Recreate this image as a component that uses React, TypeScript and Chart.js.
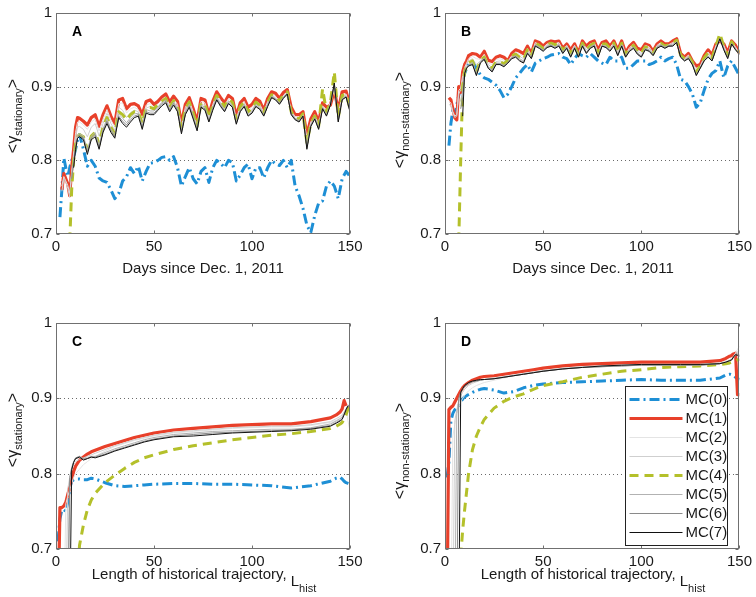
import React, { useEffect, useRef } from "react";
import { Chart, registerables } from "chart.js";

Chart.register(...registerables);

const _ = null;

// ---------- axes / categories ----------
const DAYS = [2, 3, 4, 5, 6, 7, 8, 9, 10, 11,
  12, 14, 16, 18, 20, 22, 24, 26, 28, 30,
  32, 34, 36, 38, 40, 42, 44, 46, 48, 50,
  52, 54, 56, 58, 60, 62, 64, 66, 68, 70,
  72, 74, 76, 78, 80, 82, 84, 86, 88, 90,
  92, 94, 96, 98, 100, 102, 104, 106, 108, 110,
  112, 114, 116, 118, 120, 122, 124, 126, 128, 130,
  132, 134, 136, 138, 140, 142, 144, 146, 148, 150];

const L_HIST = [1, 2, 3, 4, 5, 6, 7, 8, 9, 10,
  12, 14, 16, 18, 20, 25, 30, 35, 40, 45,
  50, 60, 70, 80, 90, 100, 110, 120, 130, 140,
  143, 145, 146, 147, 148, 149, 150];

const X_TICKS = [0, 50, 100, 150];
const X_TICK_LABELS = ["0", "50", "100", "150"];
const Y_TICKS = [0.7, 0.8, 0.9, 1];
const Y_TICK_LABELS = ["0.7", "0.8", "0.9", "1"];
const GRID_Y = [0.8, 0.9];
const SERIES_NAMES = ["MC(0)", "MC(1)", "MC(2)", "MC(3)", "MC(4)", "MC(5)", "MC(6)", "MC(7)"];

// ---------- Panel A : stationary vs day ----------
const A_MC0 = [0.723, 0.760, 0.803, 0.790, 0.778, 0.790, 0.800, 0.805, 0.815, 0.828,
  0.835, 0.815, 0.792, 0.800, 0.792, 0.776, 0.772, 0.770, 0.760, 0.748,
  0.755, 0.772, 0.778, 0.790, 0.782, 0.792, 0.772, 0.785, 0.796, 0.797,
  0.800, 0.804, 0.805, 0.800, 0.805, 0.790, 0.765, 0.778, 0.790, 0.775,
  0.768, 0.785, 0.790, 0.770, 0.790, 0.800, 0.796, 0.790, 0.800, 0.797,
  0.772, 0.780, 0.790, 0.795, 0.775, 0.790, 0.790, 0.776, 0.790, 0.800,
  0.795, 0.793, 0.800, 0.790, 0.800, 0.765, 0.752, 0.735, 0.712, 0.702,
  0.725, 0.742, 0.745, 0.765, 0.772, 0.765, 0.748, 0.775, 0.785, 0.778];
const A_MC1 = [_, 0.760, 0.782, 0.775, 0.768, 0.752, 0.790, 0.815, 0.845, 0.858,
  0.857, 0.853, 0.848, 0.858, 0.862, 0.846, 0.862, 0.874, 0.860, 0.850,
  0.882, 0.884, 0.870, 0.876, 0.877, 0.874, 0.862, 0.880, 0.882, 0.876,
  0.880, 0.886, 0.890, 0.879, 0.887, 0.880, 0.850, 0.876, 0.885, 0.870,
  0.852, 0.884, 0.882, 0.862, 0.880, 0.893, 0.885, 0.878, 0.888, 0.884,
  0.860, 0.878, 0.884, 0.872, 0.876, 0.884, 0.880, 0.868, 0.884, 0.893,
  0.891, 0.884, 0.892, 0.896, 0.872, 0.862, 0.862, 0.866, 0.835, 0.856,
  0.866, 0.852, 0.878, 0.872, 0.875, 0.895, 0.868, 0.893, 0.894, 0.874];
const A_MC2 = [_, 0.765, 0.778, 0.772, 0.766, 0.755, 0.785, 0.810, 0.838, 0.852,
  0.852, 0.848, 0.842, 0.852, 0.856, 0.840, 0.856, 0.869, 0.855, 0.845,
  0.877, 0.878, 0.864, 0.870, 0.872, 0.869, 0.856, 0.875, 0.877, 0.872,
  0.876, 0.882, 0.886, 0.875, 0.883, 0.876, 0.846, 0.872, 0.881, 0.866,
  0.848, 0.880, 0.878, 0.858, 0.876, 0.889, 0.881, 0.874, 0.884, 0.880,
  0.856, 0.874, 0.880, 0.868, 0.872, 0.880, 0.876, 0.865, 0.880, 0.889,
  0.887, 0.880, 0.888, 0.892, 0.868, 0.859, 0.858, 0.863, 0.830, 0.852,
  0.862, 0.848, 0.874, 0.867, 0.878, 0.896, 0.862, 0.889, 0.890, 0.870];
const A_MC3 = [_, 0.758, 0.775, 0.770, 0.762, 0.750, 0.780, 0.805, 0.832, 0.845,
  0.846, 0.842, 0.832, 0.845, 0.850, 0.833, 0.850, 0.864, 0.850, 0.841,
  0.872, 0.868, 0.858, 0.865, 0.868, 0.866, 0.851, 0.871, 0.873, 0.868,
  0.873, 0.879, 0.883, 0.872, 0.880, 0.872, 0.842, 0.868, 0.878, 0.862,
  0.845, 0.877, 0.874, 0.856, 0.873, 0.886, 0.878, 0.871, 0.881, 0.877,
  0.853, 0.871, 0.877, 0.865, 0.869, 0.877, 0.873, 0.862, 0.877, 0.888,
  0.885, 0.878, 0.887, 0.892, 0.865, 0.857, 0.855, 0.862, 0.822, 0.849,
  0.859, 0.845, 0.873, 0.864, 0.877, 0.900, 0.856, 0.886, 0.888, 0.868];
const A_MC4 = [_, _, _, _, _, 0.690, 0.760, 0.800, 0.822, 0.832,
  0.835, 0.832, 0.815, 0.833, 0.838, 0.822, 0.845, 0.858, 0.845, 0.836,
  0.866, 0.862, 0.855, 0.862, 0.866, 0.866, 0.850, 0.872, 0.872, 0.870,
  0.876, 0.880, 0.884, 0.872, 0.881, 0.873, 0.843, 0.870, 0.879, 0.864,
  0.846, 0.878, 0.876, 0.858, 0.875, 0.888, 0.880, 0.873, 0.883, 0.879,
  0.855, 0.873, 0.879, 0.866, 0.870, 0.879, 0.875, 0.864, 0.879, 0.889,
  0.887, 0.880, 0.889, 0.893, 0.866, 0.858, 0.856, 0.863, 0.824, 0.850,
  0.860, 0.846, 0.897, 0.866, 0.878, 0.920, 0.858, 0.888, 0.890, 0.870];
const A_MC5 = [_, _, _, _, _, 0.770, 0.780, 0.800, 0.820, 0.834,
  0.836, 0.833, 0.814, 0.833, 0.838, 0.820, 0.843, 0.856, 0.843, 0.835,
  0.863, 0.857, 0.851, 0.858, 0.863, 0.864, 0.847, 0.869, 0.867, 0.867,
  0.872, 0.878, 0.882, 0.870, 0.879, 0.870, 0.840, 0.866, 0.876, 0.860,
  0.843, 0.875, 0.872, 0.855, 0.872, 0.885, 0.877, 0.869, 0.880, 0.875,
  0.852, 0.869, 0.876, 0.863, 0.867, 0.876, 0.872, 0.862, 0.876, 0.887,
  0.884, 0.878, 0.886, 0.891, 0.864, 0.857, 0.854, 0.861, 0.819, 0.848,
  0.858, 0.844, 0.872, 0.862, 0.876, 0.903, 0.854, 0.884, 0.887, 0.867];
const A_MC6 = [_, _, _, _, _, _, 0.775, 0.795, 0.818, 0.831,
  0.834, 0.830, 0.811, 0.830, 0.835, 0.817, 0.840, 0.853, 0.840, 0.832,
  0.860, 0.853, 0.848, 0.855, 0.860, 0.862, 0.844, 0.866, 0.864, 0.864,
  0.870, 0.876, 0.880, 0.868, 0.877, 0.868, 0.838, 0.864, 0.874, 0.858,
  0.841, 0.873, 0.870, 0.853, 0.870, 0.883, 0.875, 0.867, 0.878, 0.873,
  0.850, 0.867, 0.874, 0.861, 0.865, 0.874, 0.870, 0.861, 0.874, 0.886,
  0.883, 0.877, 0.885, 0.890, 0.863, 0.856, 0.853, 0.860, 0.817, 0.847,
  0.857, 0.843, 0.871, 0.861, 0.875, 0.904, 0.853, 0.883, 0.886, 0.866];
const A_MC7 = [_, _, _, _, _, _, _, 0.790, 0.815, 0.830,
  0.832, 0.828, 0.808, 0.828, 0.832, 0.815, 0.838, 0.850, 0.838, 0.830,
  0.858, 0.850, 0.845, 0.852, 0.858, 0.860, 0.842, 0.864, 0.862, 0.862,
  0.868, 0.874, 0.878, 0.866, 0.875, 0.866, 0.836, 0.862, 0.872, 0.856,
  0.840, 0.872, 0.868, 0.852, 0.868, 0.882, 0.873, 0.866, 0.877, 0.872,
  0.849, 0.866, 0.873, 0.860, 0.864, 0.873, 0.869, 0.860, 0.873, 0.885,
  0.882, 0.876, 0.884, 0.890, 0.862, 0.855, 0.852, 0.860, 0.815, 0.846,
  0.856, 0.842, 0.870, 0.860, 0.875, 0.905, 0.852, 0.882, 0.886, 0.866];

// ---------- Panel B : non-stationary vs day ----------
const B_MC0 = [0.820, 0.850, 0.868, 0.860, 0.875, 0.888, 0.900, 0.908, 0.918, 0.925,
  0.932, 0.934, 0.925, 0.916, 0.912, 0.910, 0.906, 0.902, 0.895, 0.885,
  0.890, 0.900, 0.912, 0.918, 0.925, 0.930, 0.920, 0.932, 0.935, 0.938,
  0.940, 0.943, 0.944, 0.945, 0.940, 0.938, 0.930, 0.938, 0.945, 0.942,
  0.940, 0.945, 0.940, 0.935, 0.932, 0.930, 0.940, 0.935, 0.935, 0.940,
  0.925, 0.925, 0.930, 0.935, 0.935, 0.935, 0.930, 0.932, 0.935, 0.940,
  0.935, 0.938, 0.940, 0.930, 0.910, 0.908, 0.900, 0.890, 0.872, 0.878,
  0.895, 0.910, 0.918, 0.922, 0.935, 0.912, 0.928, 0.935, 0.925, 0.915];
const B_MC1 = [0.885, 0.882, 0.870, 0.858, 0.855, 0.900, 0.892, 0.920, 0.930, 0.935,
  0.942, 0.945, 0.944, 0.940, 0.948, 0.936, 0.934, 0.940, 0.942, 0.940,
  0.935, 0.945, 0.950, 0.948, 0.945, 0.955, 0.945, 0.962, 0.960, 0.955,
  0.960, 0.962, 0.961, 0.962, 0.952, 0.958, 0.950, 0.958, 0.946, 0.962,
  0.955, 0.960, 0.962, 0.950, 0.960, 0.962, 0.955, 0.962, 0.950, 0.962,
  0.946, 0.955, 0.960, 0.952, 0.950, 0.958, 0.956, 0.948, 0.958, 0.962,
  0.958, 0.958, 0.962, 0.965, 0.945, 0.940, 0.945, 0.935, 0.928, 0.930,
  0.942, 0.950, 0.943, 0.958, 0.962, 0.958, 0.946, 0.962, 0.956, 0.945];
const B_MC2 = [0.880, 0.878, 0.866, 0.860, 0.862, 0.895, 0.898, 0.915, 0.926, 0.932,
  0.938, 0.941, 0.938, 0.937, 0.944, 0.932, 0.930, 0.937, 0.938, 0.936,
  0.934, 0.942, 0.947, 0.944, 0.941, 0.952, 0.943, 0.960, 0.957, 0.953,
  0.958, 0.960, 0.958, 0.960, 0.950, 0.956, 0.947, 0.956, 0.944, 0.960,
  0.952, 0.958, 0.960, 0.947, 0.958, 0.959, 0.953, 0.960, 0.948, 0.960,
  0.944, 0.953, 0.958, 0.950, 0.947, 0.956, 0.954, 0.946, 0.956, 0.960,
  0.956, 0.957, 0.960, 0.963, 0.943, 0.938, 0.943, 0.933, 0.924, 0.928,
  0.940, 0.947, 0.940, 0.956, 0.962, 0.956, 0.943, 0.960, 0.954, 0.944];
const B_MC3 = [0.876, 0.874, 0.864, 0.858, 0.860, 0.890, 0.896, 0.910, 0.924, 0.930,
  0.935, 0.938, 0.930, 0.935, 0.941, 0.930, 0.926, 0.934, 0.935, 0.933,
  0.934, 0.940, 0.944, 0.941, 0.938, 0.950, 0.941, 0.958, 0.955, 0.951,
  0.956, 0.958, 0.956, 0.958, 0.948, 0.955, 0.945, 0.955, 0.943, 0.958,
  0.950, 0.956, 0.958, 0.945, 0.957, 0.957, 0.951, 0.958, 0.946, 0.958,
  0.943, 0.951, 0.956, 0.948, 0.945, 0.954, 0.952, 0.945, 0.955, 0.958,
  0.955, 0.956, 0.958, 0.962, 0.942, 0.937, 0.941, 0.932, 0.920, 0.927,
  0.938, 0.945, 0.938, 0.954, 0.963, 0.955, 0.941, 0.959, 0.952, 0.944];
const B_MC4 = [_, _, _, _, _, 0.690, 0.800, 0.900, 0.920, 0.928,
  0.932, 0.935, 0.920, 0.936, 0.940, 0.928, 0.925, 0.934, 0.934, 0.931,
  0.936, 0.942, 0.944, 0.940, 0.937, 0.950, 0.942, 0.959, 0.956, 0.952,
  0.957, 0.959, 0.957, 0.959, 0.949, 0.955, 0.944, 0.955, 0.943, 0.959,
  0.950, 0.956, 0.959, 0.945, 0.958, 0.958, 0.952, 0.959, 0.946, 0.959,
  0.943, 0.952, 0.956, 0.948, 0.945, 0.954, 0.952, 0.945, 0.955, 0.959,
  0.955, 0.957, 0.959, 0.963, 0.943, 0.938, 0.942, 0.933, 0.920, 0.928,
  0.939, 0.946, 0.939, 0.955, 0.972, 0.955, 0.942, 0.961, 0.953, 0.946];
const B_MC5 = [_, _, _, _, _, _, 0.880, 0.895, 0.920, 0.927,
  0.930, 0.933, 0.918, 0.934, 0.939, 0.927, 0.923, 0.932, 0.932, 0.929,
  0.933, 0.940, 0.942, 0.938, 0.935, 0.947, 0.940, 0.957, 0.954, 0.950,
  0.955, 0.957, 0.954, 0.957, 0.947, 0.954, 0.942, 0.954, 0.942, 0.957,
  0.947, 0.954, 0.957, 0.942, 0.956, 0.955, 0.950, 0.957, 0.944, 0.957,
  0.942, 0.950, 0.954, 0.946, 0.942, 0.952, 0.950, 0.944, 0.954, 0.957,
  0.954, 0.956, 0.957, 0.961, 0.941, 0.936, 0.940, 0.931, 0.917, 0.926,
  0.936, 0.942, 0.936, 0.952, 0.966, 0.952, 0.940, 0.959, 0.951, 0.944];
const B_MC6 = [_, _, _, _, _, _, 0.870, 0.885, 0.919, 0.926,
  0.929, 0.931, 0.916, 0.933, 0.938, 0.926, 0.921, 0.931, 0.931, 0.928,
  0.932, 0.939, 0.941, 0.936, 0.933, 0.946, 0.939, 0.956, 0.953, 0.949,
  0.954, 0.956, 0.953, 0.956, 0.946, 0.953, 0.941, 0.953, 0.941, 0.956,
  0.946, 0.953, 0.956, 0.941, 0.955, 0.954, 0.949, 0.956, 0.943, 0.956,
  0.941, 0.949, 0.953, 0.945, 0.941, 0.951, 0.949, 0.943, 0.953, 0.956,
  0.953, 0.955, 0.956, 0.960, 0.940, 0.935, 0.939, 0.930, 0.916, 0.925,
  0.935, 0.941, 0.935, 0.951, 0.965, 0.951, 0.939, 0.958, 0.950, 0.944];
const B_MC7 = [_, _, _, _, _, _, _, 0.860, 0.918, 0.925,
  0.928, 0.930, 0.915, 0.932, 0.937, 0.925, 0.920, 0.930, 0.930, 0.927,
  0.932, 0.938, 0.940, 0.935, 0.932, 0.945, 0.938, 0.955, 0.952, 0.948,
  0.953, 0.955, 0.952, 0.955, 0.945, 0.952, 0.940, 0.952, 0.940, 0.955,
  0.945, 0.952, 0.955, 0.940, 0.955, 0.953, 0.948, 0.955, 0.942, 0.955,
  0.940, 0.948, 0.952, 0.944, 0.940, 0.950, 0.948, 0.942, 0.952, 0.955,
  0.952, 0.955, 0.955, 0.960, 0.940, 0.935, 0.938, 0.930, 0.915, 0.925,
  0.935, 0.940, 0.935, 0.950, 0.965, 0.950, 0.938, 0.958, 0.950, 0.944];

// ---------- Panel C : stationary vs L_hist ----------
const C_MC0 = [0.710, 0.740, 0.752, 0.752, 0.750, 0.762, 0.780, 0.790, 0.792, 0.793,
  0.793, 0.792, 0.792, 0.794, 0.793, 0.788, 0.784, 0.783, 0.784, 0.785,
  0.786, 0.787, 0.787, 0.786, 0.786, 0.785, 0.784, 0.781, 0.784, 0.790,
  0.794, 0.795, 0.793, 0.790, 0.788, 0.787, 0.786];
const C_MC1 = [0.600, 0.755, 0.755, 0.757, 0.762, 0.772, 0.782, 0.792, 0.803, 0.810,
  0.818, 0.822, 0.826, 0.829, 0.831, 0.836, 0.840, 0.844, 0.848, 0.851,
  0.854, 0.858, 0.860, 0.862, 0.864, 0.865, 0.866, 0.866, 0.869, 0.874,
  0.878, 0.882, 0.886, 0.897, 0.890, _, _];
const C_MC2 = [_, _, _, 0.600, 0.760, 0.770, 0.778, 0.787, 0.795, 0.800,
  0.806, 0.812, 0.816, 0.820, 0.823, 0.830, 0.836, 0.840, 0.844, 0.847,
  0.850, 0.854, 0.856, 0.858, 0.860, 0.861, 0.862, 0.862, 0.864, 0.868,
  0.871, 0.874, 0.876, 0.880, 0.884, 0.870, 0.856];
const C_MC3 = [_, _, _, _, 0.600, 0.780, 0.795, 0.805, 0.812, 0.816,
  0.819, 0.821, 0.823, 0.825, 0.827, 0.832, 0.837, 0.841, 0.845, 0.848,
  0.851, 0.855, 0.857, 0.859, 0.861, 0.862, 0.863, 0.863, 0.865, 0.869,
  0.873, 0.876, 0.878, 0.882, 0.886, 0.890, 0.888];
const C_MC4 = [_, _, _, _, _, _, _, _, _, 0.620,
  0.705, 0.732, 0.752, 0.765, 0.774, 0.788, 0.798, 0.807, 0.815, 0.821,
  0.825, 0.832, 0.837, 0.841, 0.845, 0.848, 0.851, 0.853, 0.856, 0.860,
  0.863, 0.866, 0.868, 0.872, 0.878, 0.886, 0.892];
const C_MC5 = [_, _, _, _, _, 0.600, 0.790, 0.805, 0.815, 0.820,
  0.822, 0.820, 0.821, 0.823, 0.823, 0.828, 0.833, 0.837, 0.841, 0.845,
  0.848, 0.852, 0.854, 0.856, 0.857, 0.858, 0.859, 0.859, 0.861, 0.866,
  0.870, 0.873, 0.875, 0.880, 0.886, 0.891, 0.890];
const C_MC6 = [_, _, _, _, _, 0.600, 0.795, 0.808, 0.816, 0.821,
  0.823, 0.819, 0.820, 0.822, 0.822, 0.826, 0.831, 0.835, 0.839, 0.843,
  0.846, 0.850, 0.852, 0.854, 0.855, 0.856, 0.857, 0.858, 0.860, 0.864,
  0.868, 0.871, 0.873, 0.879, 0.885, 0.890, 0.889];
const C_MC7 = [_, _, _, _, _, _, 0.600, 0.805, 0.815, 0.820,
  0.822, 0.818, 0.820, 0.822, 0.821, 0.825, 0.830, 0.834, 0.838, 0.842,
  0.845, 0.849, 0.850, 0.852, 0.854, 0.855, 0.856, 0.857, 0.859, 0.863,
  0.867, 0.870, 0.872, 0.878, 0.885, 0.890, _];

// ---------- Panel D : non-stationary vs L_hist ----------
const D_MC0 = [0.795, 0.815, 0.870, 0.880, 0.885, 0.888, 0.890, 0.895, 0.899, 0.902,
  0.905, 0.908, 0.910, 0.912, 0.913, 0.911, 0.907, 0.909, 0.914, 0.917,
  0.919, 0.921, 0.922, 0.923, 0.924, 0.925, 0.924, 0.924, 0.924, 0.927,
  0.931, 0.932, 0.931, 0.930, 0.928, 0.926, 0.925];
const D_MC1 = [0.600, 0.885, 0.888, 0.890, 0.895, 0.900, 0.905, 0.910, 0.914, 0.917,
  0.921, 0.924, 0.926, 0.928, 0.929, 0.930, 0.932, 0.934, 0.936, 0.938,
  0.940, 0.943, 0.945, 0.946, 0.947, 0.948, 0.948, 0.948, 0.948, 0.950,
  0.953, 0.956, 0.957, 0.959, 0.960, 0.905, 0.905];
const D_MC2 = [_, _, 0.600, 0.850, 0.865, 0.878, 0.888, 0.895, 0.900, 0.904,
  0.910, 0.914, 0.917, 0.919, 0.921, 0.924, 0.927, 0.930, 0.932, 0.934,
  0.936, 0.939, 0.941, 0.942, 0.943, 0.944, 0.944, 0.944, 0.944, 0.946,
  0.948, 0.950, 0.952, 0.955, 0.960, 0.965, 0.969];
const D_MC3 = [_, _, _, 0.600, 0.870, 0.885, 0.895, 0.903, 0.908, 0.912,
  0.917, 0.920, 0.922, 0.924, 0.925, 0.927, 0.929, 0.931, 0.933, 0.935,
  0.937, 0.940, 0.942, 0.943, 0.944, 0.945, 0.945, 0.945, 0.945, 0.947,
  0.949, 0.951, 0.953, 0.956, 0.959, 0.962, 0.963];
const D_MC4 = [_, _, _, _, _, _, _, 0.690, 0.725, 0.752,
  0.800, 0.832, 0.850, 0.862, 0.872, 0.887, 0.896, 0.902, 0.906, 0.912,
  0.917, 0.922, 0.928, 0.932, 0.936, 0.938, 0.941, 0.942, 0.943, 0.945,
  0.946, 0.947, 0.948, 0.949, 0.950, 0.951, 0.952];
const D_MC5 = [_, _, _, _, 0.600, 0.880, 0.898, 0.907, 0.912, 0.915,
  0.919, 0.922, 0.923, 0.924, 0.925, 0.926, 0.928, 0.930, 0.932, 0.934,
  0.936, 0.939, 0.941, 0.942, 0.943, 0.944, 0.944, 0.944, 0.944, 0.946,
  0.948, 0.950, 0.951, 0.954, 0.958, 0.960, 0.958];
const D_MC6 = [_, _, _, _, _, 0.600, 0.900, 0.908, 0.913, 0.916,
  0.920, 0.922, 0.923, 0.924, 0.925, 0.926, 0.928, 0.930, 0.932, 0.934,
  0.936, 0.939, 0.941, 0.942, 0.943, 0.944, 0.944, 0.944, 0.944, 0.946,
  0.948, 0.950, 0.951, 0.955, 0.958, 0.958, 0.957];
const D_MC7 = [_, _, _, _, _, _, 0.600, 0.908, 0.913, 0.917,
  0.921, 0.923, 0.924, 0.925, 0.925, 0.926, 0.928, 0.930, 0.932, 0.934,
  0.936, 0.939, 0.941, 0.943, 0.944, 0.945, 0.945, 0.945, 0.945, 0.946,
  0.948, 0.950, 0.951, 0.955, 0.958, 0.957, 0.956];

// ---------- styles ----------
const FONT = '"Liberation Sans", Arial, Helvetica, sans-serif';
const TEXT_COLOR = "#1a1a1a";
const STYLES = [
  { color: "#1e8fd5", width: 3, dash: [10, 4, 2, 4] },
  { color: "#e8402a", width: 3.2, dash: [] },
  { color: "#e4e4e4", width: 1, dash: [] },
  { color: "#cfcfcf", width: 1, dash: [] },
  { color: "#b4c02a", width: 3, dash: [9, 6] },
  { color: "#b2b2b2", width: 1, dash: [] },
  { color: "#8a8a8a", width: 1, dash: [] },
  { color: "#111111", width: 1, dash: [] },
];

type PanelDef = {
  letter: string;
  left: number; top: number; w: number; h: number;
  area: { l: number; t: number; r: number; b: number };
  xs: number[];
  series: (number | null)[][];
  ySub: string; yCy: number; yBase: number;
  xTitle: string; xSub: string | null; xCx: number; xBase: number;
  legend: boolean;
};

const PANELS: PanelDef[] = [
  {
    letter: "A", left: 0, top: 0, w: 378, h: 298,
    area: { l: 56, t: 9, r: 350, b: 234 },
    xs: DAYS, series: [A_MC0, A_MC1, A_MC2, A_MC3, A_MC4, A_MC5, A_MC6, A_MC7],
    ySub: "stationary", yCy: 116, yBase: 18,
    xTitle: "Days since Dec. 1, 2011", xSub: null, xCx: 203, xBase: 273, legend: false,
  },
  {
    letter: "B", left: 378, top: 0, w: 378, h: 298,
    area: { l: 67, t: 9, r: 362, b: 234 },
    xs: DAYS, series: [B_MC0, B_MC1, B_MC2, B_MC3, B_MC4, B_MC5, B_MC6, B_MC7],
    ySub: "non-stationary", yCy: 120, yBase: 27,
    xTitle: "Days since Dec. 1, 2011", xSub: null, xCx: 215, xBase: 273, legend: false,
  },
  {
    letter: "C", left: 0, top: 300, w: 378, h: 297,
    area: { l: 56, t: 23, r: 350, b: 249 },
    xs: L_HIST, series: [C_MC0, C_MC1, C_MC2, C_MC3, C_MC4, C_MC5, C_MC6, C_MC7],
    ySub: "stationary", yCy: 130, yBase: 18,
    xTitle: "Length of historical trajectory, ", xSub: "hist", xCx: 204, xBase: 279, legend: false,
  },
  {
    letter: "D", left: 378, top: 300, w: 378, h: 297,
    area: { l: 67, t: 23, r: 362, b: 249 },
    xs: L_HIST, series: [D_MC0, D_MC1, D_MC2, D_MC3, D_MC4, D_MC5, D_MC6, D_MC7],
    ySub: "non-stationary", yCy: 151, yBase: 27,
    xTitle: "Length of historical trajectory, ", xSub: "hist", xCx: 215, xBase: 279, legend: true,
  },
];

function makePlugin(p: PanelDef) {
  return {
    id: "decor" + p.letter,
    beforeDatasetsDraw(chart: any) {
      const { ctx, chartArea: a, scales } = chart;
      ctx.save();
      ctx.strokeStyle = "#6a6a6a";
      ctx.lineWidth = 1;
      ctx.setLineDash([1, 3]);
      GRID_Y.forEach((v) => {
        const py = Math.round(scales.y.getPixelForValue(v)) + 0.5;
        ctx.beginPath();
        ctx.moveTo(a.left, py);
        ctx.lineTo(a.right, py);
        ctx.stroke();
      });
      ctx.restore();
    },
    afterDatasetsDraw(chart: any) {
      const { ctx, chartArea: a, scales } = chart;
      const L = Math.round(a.left) + 0.5;
      const T = Math.round(a.top) + 0.5;
      const R = Math.round(a.right) - 0.5;
      const B = Math.round(a.bottom) - 0.5;
      ctx.save();
      ctx.setLineDash([]);
      ctx.strokeStyle = "#707070";
      ctx.lineWidth = 1;
      ctx.strokeRect(L, T, R - L, B - T);
      ctx.beginPath();
      X_TICKS.forEach((v) => {
        const px = Math.round(scales.x.getPixelForValue(v)) + 0.5;
        ctx.moveTo(px, B); ctx.lineTo(px, B - 3);
        ctx.moveTo(px, T); ctx.lineTo(px, T + 3);
      });
      Y_TICKS.forEach((v) => {
        const py = Math.round(scales.y.getPixelForValue(v)) + 0.5;
        ctx.moveTo(L, py); ctx.lineTo(L + 3, py);
        ctx.moveTo(R, py); ctx.lineTo(R - 3, py);
      });
      ctx.stroke();

      // panel letter
      ctx.fillStyle = "#000";
      ctx.font = `bold 14px ${FONT}`;
      ctx.textAlign = "left";
      ctx.textBaseline = "middle";
      ctx.fillText(p.letter, a.left + 16, a.top + 19);

      // y title with subscript
      ctx.save();
      ctx.fillStyle = TEXT_COLOR;
      ctx.translate(p.yBase, p.yCy);
      ctx.rotate(-Math.PI / 2);
      ctx.textBaseline = "alphabetic";
      ctx.textAlign = "left";
      const mainF = `16px ${FONT}`;
      const subF = `11px ${FONT}`;
      ctx.font = mainF;
      const w1 = ctx.measureText("<\u03b3").width;
      const w3 = ctx.measureText(">").width;
      ctx.font = subF;
      const w2 = ctx.measureText(p.ySub).width;
      const sx = -(w1 + w2 + w3) / 2;
      ctx.font = mainF;
      ctx.fillText("<\u03b3", sx, 0);
      ctx.font = subF;
      ctx.fillText(p.ySub, sx + w1, 3.5);
      ctx.font = mainF;
      ctx.fillText(">", sx + w1 + w2, 0);
      ctx.restore();

      // x title
      ctx.fillStyle = TEXT_COLOR;
      ctx.textBaseline = "alphabetic";
      ctx.textAlign = "left";
      ctx.font = `15px ${FONT}`;
      const mw = ctx.measureText(p.xTitle).width;
      if (p.xSub) {
        const lw = ctx.measureText("L").width;
        ctx.font = `11px ${FONT}`;
        const sw = ctx.measureText(p.xSub).width;
        const x0 = p.xCx - (mw + lw + sw) / 2;
        ctx.font = `15px ${FONT}`;
        ctx.fillText(p.xTitle, x0, p.xBase);
        ctx.fillText("L", x0 + mw, p.xBase + 7);
        ctx.font = `11px ${FONT}`;
        ctx.fillText(p.xSub, x0 + mw + lw, p.xBase + 13);
      } else {
        ctx.fillText(p.xTitle, p.xCx - mw / 2, p.xBase);
      }

      // legend
      if (p.legend) {
        const bx0 = Math.round(a.right) - 114 + 0.5;
        const bx1 = Math.round(a.right) - 12 + 0.5;
        const by0 = Math.round(a.top) + 63 + 0.5;
        const by1 = Math.round(a.bottom) - 4 + 0.5;
        ctx.fillStyle = "#ffffff";
        ctx.fillRect(bx0, by0, bx1 - bx0, by1 - by0);
        ctx.strokeStyle = "#222";
        ctx.lineWidth = 1;
        ctx.setLineDash([]);
        ctx.strokeRect(bx0, by0, bx1 - bx0, by1 - by0);
        SERIES_NAMES.forEach((name, i) => {
          const st = STYLES[i];
          const ry = by0 + 13 + 19 * i;
          ctx.strokeStyle = st.color;
          ctx.lineWidth = st.width;
          ctx.setLineDash(st.dash);
          ctx.beginPath();
          ctx.moveTo(bx0 + 4, ry);
          ctx.lineTo(bx0 + 57, ry);
          ctx.stroke();
          ctx.setLineDash([]);
          ctx.fillStyle = TEXT_COLOR;
          ctx.font = `15px ${FONT}`;
          ctx.textBaseline = "middle";
          ctx.fillText(name, bx0 + 60, ry);
        });
      }
      ctx.restore();
    },
  };
}

function Panel({ p }: { p: PanelDef }) {
  const ref = useRef<HTMLCanvasElement | null>(null);
  useEffect(() => {
    if (!ref.current) return;
    const datasets = p.series.map((ys, i) => ({
      label: SERIES_NAMES[i],
      data: p.xs.map((x, j) => ({ x, y: ys[j] })),
      borderColor: STYLES[i].color,
      backgroundColor: STYLES[i].color,
      borderWidth: STYLES[i].width,
      borderDash: STYLES[i].dash,
      borderCapStyle: "butt",
      borderJoinStyle: "round",
      pointRadius: 0,
      pointHoverRadius: 0,
      tension: 0,
      fill: false,
      spanGaps: false,
      order: 7 - i,
    }));
    const chart = new Chart(ref.current, {
      type: "line",
      data: { datasets: datasets as any },
      options: {
        responsive: false,
        animation: false,
        devicePixelRatio: 1,
        events: [],
        layout: {
          padding: { left: 0, top: p.area.t, right: p.w - p.area.r, bottom: 0 },
        },
        plugins: { legend: { display: false }, tooltip: { enabled: false }, title: { display: false } },
        scales: {
          x: {
            type: "linear",
            min: 0,
            max: 150,
            grid: { display: false, drawTicks: false, tickLength: 0 },
            border: { display: false },
            afterBuildTicks: (s: any) => { s.ticks = X_TICKS.map((v) => ({ value: v })); },
            afterFit: (s: any) => { s.height = p.h - p.area.b; },
            ticks: {
              padding: 4,
              color: TEXT_COLOR,
              font: { family: FONT, size: 15 },
              maxRotation: 0,
              autoSkip: false,
              callback: (v: any) => X_TICK_LABELS[X_TICKS.indexOf(Number(v))],
            },
          },
          y: {
            type: "linear",
            min: 0.7,
            max: 1,
            grid: { display: false, drawTicks: false, tickLength: 0 },
            border: { display: false },
            afterBuildTicks: (s: any) => { s.ticks = Y_TICKS.map((v) => ({ value: v })); },
            afterFit: (s: any) => { s.width = p.area.l; },
            ticks: {
              padding: 4,
              color: TEXT_COLOR,
              font: { family: FONT, size: 15 },
              autoSkip: false,
              callback: (v: any) => Y_TICK_LABELS[Y_TICKS.indexOf(Number(v))],
            },
          },
        },
      } as any,
      plugins: [makePlugin(p) as any],
    });
    return () => chart.destroy();
  }, [p]);
  return (
    <canvas
      ref={ref}
      width={p.w}
      height={p.h}
      style={{ position: "absolute", left: p.left, top: p.top, width: p.w, height: p.h, display: "block" }}
    />
  );
}

export default function App() {
  return (
    <div style={{ position: "absolute", left: 0, top: 0, width: 756, height: 597, background: "#ffffff", overflow: "hidden" }}>
      {PANELS.map((p) => (
        <Panel key={p.letter} p={p} />
      ))}
    </div>
  );
}
